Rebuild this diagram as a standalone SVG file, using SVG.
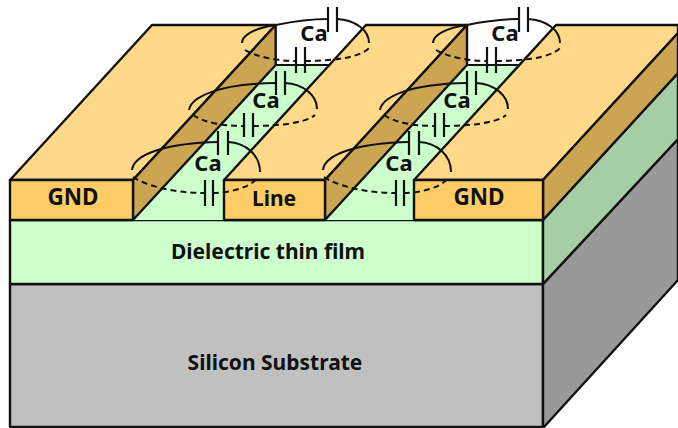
<svg xmlns="http://www.w3.org/2000/svg" width="678" height="428" viewBox="0 0 678 428">
<defs>
<style>
.s{stroke:#111;stroke-width:2.4;stroke-linejoin:round}
.top{fill:#FFD88A}.front{fill:#FFCC66}.wall{fill:#CCA552}
.die{fill:#CCFFCC}.dies{fill:#A5CEA5}.sub{fill:#C0C0C0}.subs{fill:#999999}
.a{fill:none;stroke:#111;stroke-width:2}
.d{fill:none;stroke:#111;stroke-width:2;stroke-dasharray:6 4}
.p{fill:none;stroke:#111;stroke-width:2.2}
text{font-family:"Noto Sans","Open Sans","Liberation Sans",sans-serif;font-weight:700;fill:#111;text-anchor:middle}
.l{font-size:21px}.g{font-size:22.5px}.c{font-size:22px}
</style>
<g id="cap">
<path class="a" d="M132 170C134 153 170 143 218 142M228 142C246 143 260 155 260 172"/>
<path class="d" d="M133 177C143 184 170 193 205 193M213 193C228 193 250 188 257 178"/>
<path class="p" d="M218 131V155M228 131V155M205 180V206M213 180V206"/>
</g>
<g id="cap2">
<path class="a" d="M189 110C191 98 215 84 276 83M285 83C303 84 317 95 317 109"/>
<path class="d" d="M193 115C203 122 222 126 244 126M253 126C272 126 305 124 315 115"/>
<path class="p" d="M276 71V95M285 71V95M244 113V137M253 113V137"/>
</g>
<g id="cap3">
<path class="a" d="M242 43C242 35 255 28 276 25C295 21 312 19 328 19M337 19C355 20 369 30 369 43"/>
<path class="d" d="M245 50C255 56 275 61 296 61M305 61C330 61 360 58 369 48"/>
<path class="p" d="M328 7V32M337 7V32M296 47V73M305 47V73"/>
</g>
</defs>
<rect width="678" height="428" fill="#fff"/>
<g id="substrate">
<rect class="s sub" x="10" y="284" width="533" height="143"/>
<polygon class="s subs" points="543,284 678,139 678,280 544,427 543,427"/>
</g>
<g id="dielectric">
<rect class="s die" x="10" y="220" width="533" height="64"/>
<polygon class="s dies" points="543,220 678,73 678,139 543,284"/>
<text class="l" x="268" y="259">Dielectric thin film</text>
</g>
<g id="channel-1"><polygon class="die" points="133,220 275.7,65 329,65 224,180 224,220"/><path class="p" d="M275.7 65H329"/></g>
<g id="channel-2"><polygon class="die" points="325,220 467,65 521,65 414,180 414,220"/><path class="p" d="M467 65H521"/></g>
<g id="gnd-left">
<polygon class="s top" points="10,180 133,180 275.7,25 152,25"/>
<polygon class="s wall" points="133,180 133,220 275.7,65 275.7,25"/>
<rect class="s front" x="10" y="180" width="123" height="40"/>
<text class="g" x="73" y="205">GND</text>
</g>
<g id="line">
<polygon class="s top" points="224,180 325,180 467,25 366,25"/>
<polygon class="s wall" points="325,180 325,220 467,65 467,25"/>
<rect class="s front" x="224" y="180" width="101" height="40"/>
<text class="l" x="274" y="206">Line</text>
</g>
<g id="gnd-right">
<polygon class="s top" points="414,180 543,180 678,33 678,25 556,25"/>
<polygon class="s wall" points="543,180 543,220 678,73 678,33"/>
<rect class="s front" x="414" y="180" width="129" height="40"/>
<text class="g" x="479" y="205">GND</text>
</g>
<g id="connectors">
<use href="#cap"/><use href="#cap2"/><use href="#cap3"/>
<g transform="translate(191 0)"><use href="#cap"/><use href="#cap2"/><use href="#cap3"/></g>
</g>
<g id="labels">
<text class="c" x="208" y="171">Ca</text><text class="c" x="266" y="108">Ca</text><text class="c" x="314" y="41">Ca</text>
<text class="c" x="399" y="171">Ca</text><text class="c" x="457" y="108">Ca</text><text class="c" x="505" y="41">Ca</text>
<text class="l" x="275" y="370">Silicon Substrate</text>
</g>
</svg>
